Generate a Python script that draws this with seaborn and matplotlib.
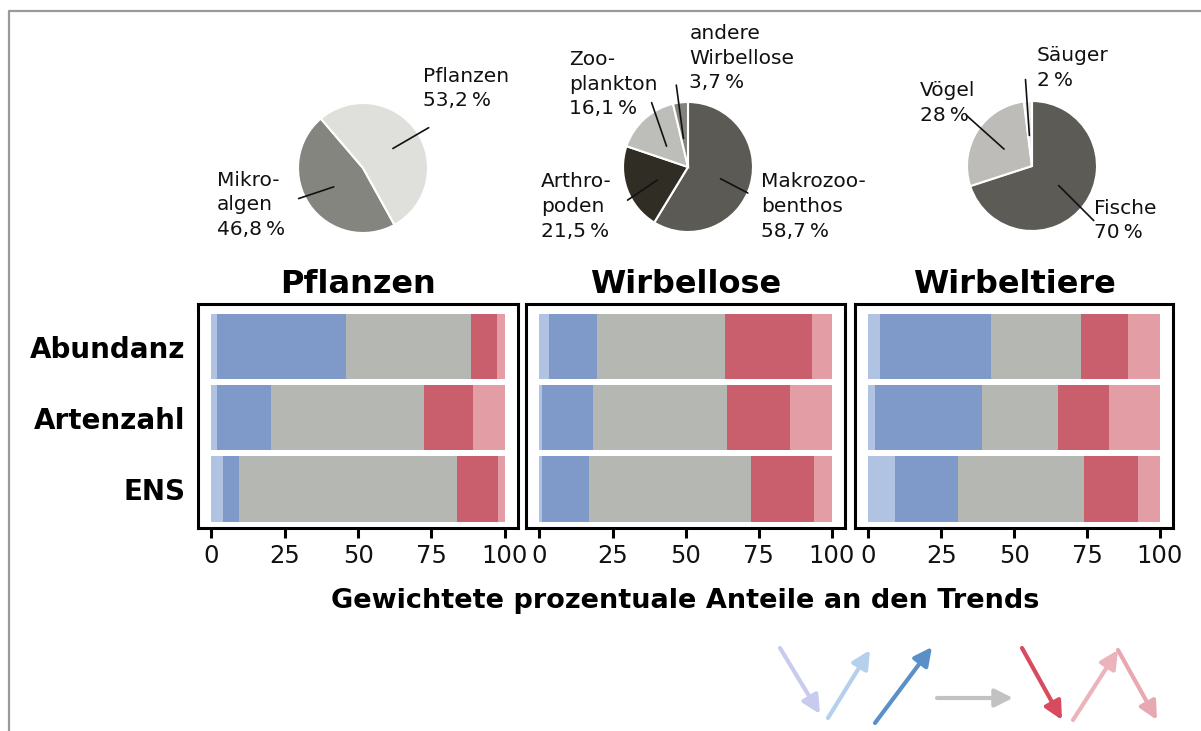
import pandas as pd
import seaborn as sns
import matplotlib.pyplot as plt

# --- data -----------------------------------------------------------------
groups = ["Pflanzen", "Wirbellose", "Wirbeltiere"]
metrics = ["Abundanz", "Artenzahl", "ENS"]
trends = ["fluktuierend steigend", "steigend", "stabil", "fallend", "fluktuierend fallend"]

pflanzen_abundanz = [2.0, 43.9, 42.5, 9.1, 2.5]
pflanzen_artenzahl = [2.0, 18.2, 52.1, 16.9, 10.8]
pflanzen_ens = [3.8, 5.7, 74.2, 13.9, 2.4]
wirbellose_abundanz = [3.1, 16.5, 43.8, 29.7, 6.9]
wirbellose_artenzahl = [0.9, 17.3, 46.1, 21.3, 14.4]
wirbellose_ens = [0.9, 16.0, 55.3, 21.8, 6.0]
wirbeltiere_abundanz = [3.9, 38.2, 31.0, 16.0, 10.9]
wirbeltiere_artenzahl = [2.2, 36.8, 25.9, 17.7, 17.4]
wirbeltiere_ens = [9.1, 21.6, 43.3, 18.6, 7.4]

pie_pflanzen_labels = ["Mikro-\nalgen", "Pflanzen"]
pie_pflanzen_values = [46.8, 53.2]
pie_wirbellose_labels = ["Makrozoo-\nbenthos", "Arthro-\npoden", "Zoo-\nplankton", "andere\nWirbellose"]
pie_wirbellose_values = [58.7, 21.5, 16.1, 3.7]
pie_wirbeltiere_labels = ["Fische", "Vögel", "Säuger"]
pie_wirbeltiere_values = [70, 28, 2]

# --- styles ---------------------------------------------------------------
trend_colors = ["#b0c3e3", "#7f9ac8", "#b5b7b2", "#c95e6d", "#e29ea4"]
pie_colors = [["#858580", "#dfdfdc"],
              ["#5b5a55", "#302e24", "#bdbdb9", "#83827d"],
              ["#5d5b55", "#bdbcb8", "#ebebe9"]]

sns.set_theme(style="white")
plt.rcParams["font.family"] = ["DejaVu Sans"]
plt.rcParams["text.color"] = "black"
plt.rcParams["xtick.color"] = "black"
plt.rcParams["ytick.color"] = "black"

rows = []
table = {
    "Pflanzen": [pflanzen_abundanz, pflanzen_artenzahl, pflanzen_ens],
    "Wirbellose": [wirbellose_abundanz, wirbellose_artenzahl, wirbellose_ens],
    "Wirbeltiere": [wirbeltiere_abundanz, wirbeltiere_artenzahl, wirbeltiere_ens],
}
for g in groups:
    for m, vals in zip(metrics, table[g]):
        cum = 0
        for t, v in zip(trends, vals):
            cum += v
            rows.append({"group": g, "metric": m, "trend": t, "value": v, "cum": cum})
df = pd.DataFrame(rows)

W, H = 1201, 731
fig = plt.figure(figsize=(W / 100, H / 100), dpi=100)


def px_axes(x0, y0, x1, y1):
    return fig.add_axes([x0 / W, 1 - y1 / H, (x1 - x0) / W, (y1 - y0) / H])


# overlay for page border and trend arrows
ov = px_axes(0, 0, W, H)
ov.set_xlim(0, W)
ov.set_ylim(H, 0)
ov.axis("off")
ov.plot([8.5, W], [10.5, 10.5], color="#9a9b96", lw=1.6)
ov.plot([8.5, 8.5], [10.5, H], color="#9a9b96", lw=1.6)

arrows = [((780, 648), (820, 714), "#c8cbee"),
          ((828, 718), (870, 650), "#b5d0ec"),
          ((875, 723), (932, 647), "#5b8fc8"),
          ((937, 698), (1013, 698), "#c2c2c2"),
          ((1022, 648), (1062, 720), "#d84a5e"),
          ((1073, 720), (1118, 650), "#ebb3bb"),
          ((1118, 650), (1157, 720), "#e8a8b2")]
for start, end, c in arrows:
    ov.annotate("", xy=end, xytext=start,
                arrowprops=dict(arrowstyle="-|>,head_length=0.9,head_width=0.45",
                                color=c, lw=3, shrinkA=0, shrinkB=0))

# --- stacked bars -------------------------------------------------------
panel_x = [(198, 518), (526, 845), (855, 1173)]
for i, g in enumerate(groups):
    ax = px_axes(panel_x[i][0], 304, panel_x[i][1], 528)
    d = df[df["group"] == g]
    for k in reversed(range(len(trends))):
        sns.barplot(data=d[d["trend"] == trends[k]], x="cum", y="metric",
                    order=metrics, color=trend_colors[k], saturation=1,
                    width=0.92, orient="h", errorbar=None, linewidth=0, ax=ax)
    ax.set_xlim(-4.6, 104.5)
    ax.set_ylim(2.55, -0.6)
    ax.set_xlabel("")
    ax.set_ylabel("")
    ax.set_xticks([0, 25, 50, 75, 100])
    ax.tick_params(axis="x", bottom=True, length=7.5, width=2.2, color="black",
                   labelsize=17.5, pad=4, labelcolor="#111111")
    if i == 0:
        ax.tick_params(axis="y", left=False, pad=3)
        for lab in ax.get_yticklabels():
            lab.set_fontsize(20)
            lab.set_fontweight("bold")
    else:
        ax.set_yticklabels([])
        ax.tick_params(axis="y", left=False)
    for sp in ax.spines.values():
        sp.set_visible(True)
        sp.set_color("black")
        sp.set_linewidth(2.2)
    ax.set_title(g, fontsize=23, fontweight="bold", pad=8)

fig.text(685 / W, 1 - 608 / H, "Gewichtete prozentuale Anteile an den Trends",
         ha="center", va="baseline", fontsize=19.5, fontweight="bold")

# --- pies -----------------------------------------------------------------
R = 65
pie_centers = [(363, 168), (688, 167), (1032, 166)]
pie_setup = [
    (pie_pflanzen_labels, pie_pflanzen_values, 130.5, True, 1),
    (pie_wirbellose_labels, pie_wirbellose_values, 90, False, 1),
    (pie_wirbeltiere_labels, pie_wirbeltiere_values, 90, False, 0),
]
# text (left, top) and leader line (inner, outer) in pie units
pie_notes = [
    [((-2.25, -0.04), (-0.45, -0.29), (-0.99, -0.47)),
     ((0.92, 1.56), (0.46, 0.30), (1.01, 0.62))],
    [((1.13, -0.08), (0.50, -0.18), (0.92, -0.40)),
     ((-2.26, -0.08), (-0.47, -0.20), (-0.93, -0.51)),
     ((-1.83, 1.80), (-0.33, 0.32), (-0.56, 0.99)),
     ((0.02, 2.20), (-0.07, 0.44), (-0.18, 1.26))],
    [((0.95, -0.50), (0.41, -0.30), (0.95, -0.84)),
     ((-1.72, 1.30), (-0.43, 0.26), (-1.01, 0.78)),
     ((0.07, 1.84), (-0.04, 0.47), (-0.10, 1.33))],
]
for j, (labels, values, start, ccw, dec) in enumerate(pie_setup):
    cx, cy = pie_centers[j]
    h = 1.25 * R
    pax = px_axes(cx - h, cy - h, cx + h, cy + h)
    pax.pie(values, colors=pie_colors[j], startangle=start, counterclock=ccw,
            wedgeprops=dict(edgecolor="white", linewidth=1.5))
    pax.set_xlim(-1.25, 1.25)
    pax.set_ylim(-1.25, 1.25)
    for lab, v, (tpos, p_in, p_out) in zip(labels, values, pie_notes[j]):
        num = f"{v:.{dec}f}".replace(".", ",")
        pax.text(tpos[0], tpos[1], f"{lab}\n{num}\u2009%", ha="left", va="top",
                 fontsize=14.5, linespacing=1.38, color="#111111", clip_on=False)
        pax.plot([p_in[0], p_out[0]], [p_in[1], p_out[1]], color="#111111",
                 lw=1.2, clip_on=False)

fig.savefig("out.png", dpi=100)
